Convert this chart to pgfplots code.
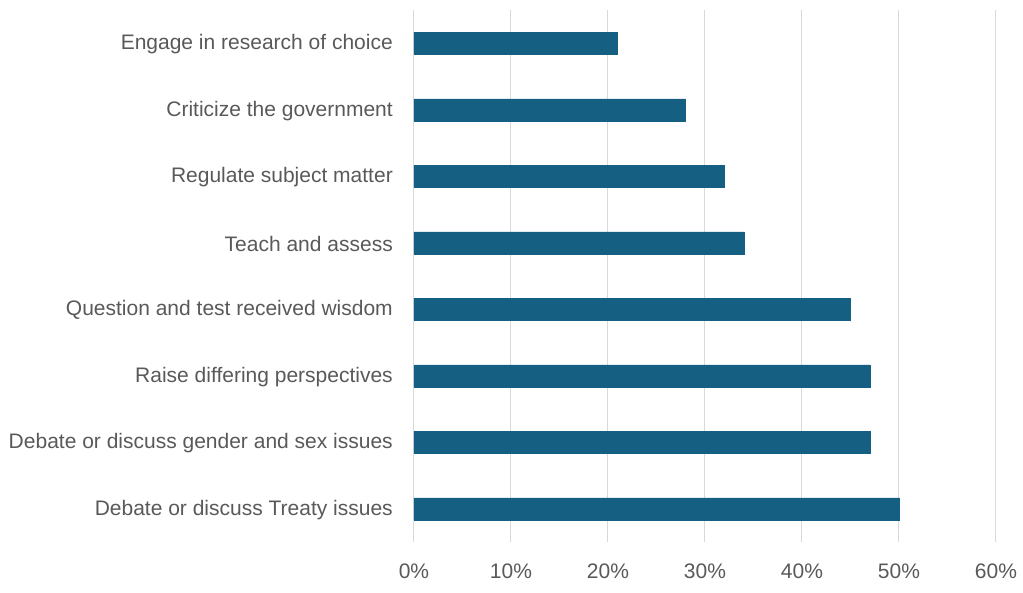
\documentclass[border=0pt]{standalone}
\usepackage{pgfplots}
\pgfplotsset{compat=1.18}
\usepackage{fontspec}
\setmainfont{Liberation Sans}
\definecolor{barblue}{HTML}{156082}
\definecolor{gridgray}{HTML}{D9D9D9}
\definecolor{textgray}{HTML}{595959}
\begin{document}
\begin{tikzpicture}
\path[use as bounding box] (-414pt,-50pt) rectangle (609pt,542pt);
\begin{axis}[at={(0,0)}, anchor=south west, scale only axis,
  width=582pt, height=532pt,
  xbar, bar width=22pt,
  xmin=0, xmax=60, ymin=-0.5, ymax=7.5,
  ytick={0,...,7},
  yticklabels={Debate or discuss Treaty issues, Debate or discuss gender and sex issues, Raise differing perspectives, Question and test received wisdom, Teach and assess, Regulate subject matter, Criticize the government, Engage in research of choice},
  xtick={0,10,...,60},
  xticklabel={\pgfmathprintnumber{\tick}\%},
  /pgf/number format/assume math mode=true,
  axis line style={draw=none},
  major tick length=0pt,
  xmajorgrids, grid style={gridgray, line width=1pt},
  tick label style={textgray, font=\fontsize{21}{24}\selectfont, inner sep=0pt},
  yticklabel style={xshift=-21pt, yshift=-1pt},
  xticklabel style={yshift=-22pt},
]
\addplot[fill=barblue, draw=barblue] coordinates {
(50,0) (47,1) (47,2) (45,3) (34,4) (32,5) (28,6) (21,7)};
\end{axis}
\end{tikzpicture}
\end{document}
